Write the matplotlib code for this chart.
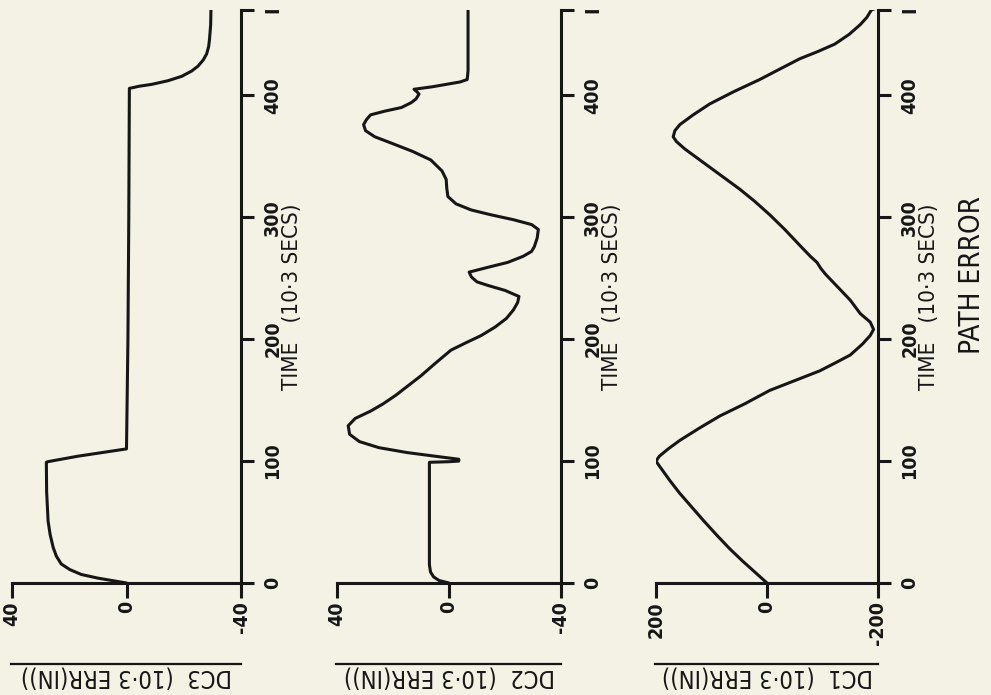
import matplotlib
matplotlib.use("Agg")
import matplotlib.pyplot as plt
from matplotlib.lines import Line2D

# ---- data: time in 10^-3 s, errors in 10^-3 in ----
time_ticks = [0, 100, 200, 300, 400, 470]
time_tick_labels = ["0", "100", "200", "300", "400", "I"]

dc3_time = [0, 2, 4, 7, 11, 15.6, 22, 29, 40, 51, 75, 99, 99.5, 104, 110, 200, 300,
            405.7, 407.5, 409, 412, 415.6, 420, 424, 429, 434, 440, 446, 458, 470]
dc3_err = [0, 5, 10, 15.8, 19.8, 22.8, 24.5, 25.6, 26.7, 27.4, 27.9, 28, 27.5, 17, 0, -0.5, -0.8,
           -1, -4.5, -8.8, -14.5, -19.3, -22.8, -25, -26.8, -28, -28.7, -29, -29.4, -29.5]

dc2_time = [0, 2, 5, 9, 15, 99, 99.5, 100, 101.5, 104, 107, 111, 116, 122, 129, 135, 141, 147,
            154, 162, 170, 180, 191, 197, 203, 210, 217, 224, 230, 235, 240, 244, 247, 251, 255,
            259, 263, 268, 272, 276, 283, 290, 294, 298, 302, 306, 311, 317, 324, 331, 338, 347,
            354, 361, 366, 371, 376, 380, 384, 387, 390, 394, 397, 401, 403, 405, 407, 409, 411,
            413, 420, 471]
dc2_err = [0, 3.5, 5.5, 6.6, 7, 7, 0, -3.5, -3.5, 5, 15, 25, 32, 35.5, 36, 33.5, 28, 23.5,
           19, 14.5, 10, 5, -0.7, -6, -11.5, -16.5, -20.5, -23, -24.5, -25, -20, -14, -10, -8, -7.2,
           -14, -21, -26.5, -29.5, -30.5, -31.5, -31.9, -29.5, -23, -15, -7.9, -2.5, 0.4, 0.8, 1,
           2.5, 6.5, 13, 20.8, 26.5, 29.8, 30.5, 29.5, 28, 23, 17, 13.5, 11.8, 10.7, 11.5, 12.5, 6,
           1, -4, -6.5, -6.8, -6.8]

dc1_time = [0, 9, 18, 28, 39, 51, 63, 74, 84, 91, 96, 100, 104, 110, 117, 127, 137, 147, 158,
            166, 174, 181, 187, 196, 203, 208, 214, 221, 232, 243, 253, 258, 263, 268, 277, 290,
            302, 313, 323, 332, 341, 349, 356, 362, 366, 371, 376, 384, 393, 403, 413, 422, 430,
            436, 442, 450, 458, 464, 470, 472]
dc1_err = [0, 22, 44, 67, 90, 114, 137, 158, 175, 186, 194, 200, 194, 178, 157, 122, 85, 40, -5,
           -50, -95, -125, -150, -172, -186, -192, -186, -168, -150, -127, -106, -97, -90, -78, -59,
           -32, -5, 22, 49, 76, 103, 127, 148, 163, 169, 166, 157, 133, 103, 60, 13, -25, -59,
           -92, -122, -148, -168, -180, -188, -200]

panels = [
    # (times, errors, value ticks, value tick labels, label)
    (dc3_time, dc3_err, [40, 0, -40], ["40", "0", "-40"], "DC3  (10·3 ERR(IN))"),
    (dc2_time, dc2_err, [40, 0, -40], ["40", "0", "-40"], "DC2  (10·3 ERR(IN))"),
    (dc1_time, dc1_err, [200, 0, -200], ["200", "0", "-200"], "DC1  (10·3 ERR(IN))"),
]

# ---- layout (pixels) ----
W, H = 991, 695
INK = "#161616"
PAPER = "#f4f2e5"
plt.rcParams["font.family"] = ["DejaVu Sans"]
plt.rcParams["font.stretch"] = "condensed"

fig = plt.figure(figsize=(W / 100, H / 100), dpi=100, facecolor=PAPER)

boxes = [(12, 241), (337, 561), (656, 878)]
top_px, bottom_px = 10, 583


def fx(x):
    return x / W


def fy(y):
    return 1 - y / H


for (t, e, vticks, vlabels, label), (x0, x1) in zip(panels, boxes):
    ax = fig.add_axes([fx(x0), fy(bottom_px), (x1 - x0) / W, (bottom_px - top_px) / H])
    ax.patch.set_alpha(0)
    ax.plot(e, t, color=INK, lw=2.2, solid_capstyle="round", solid_joinstyle="round")
    ax.set_xlim(vticks[0], vticks[-1])
    ax.set_ylim(0, 470)
    for s in ("top", "left"):
        ax.spines[s].set_visible(False)
    for s in ("bottom", "right"):
        ax.spines[s].set_linewidth(2.2)
        ax.spines[s].set_color(INK)
    ax.yaxis.tick_right()
    ax.set_yticks(time_ticks)
    ax.set_yticklabels(time_tick_labels, rotation=90, fontsize=14, fontweight="bold", color=INK)
    for lab in ax.get_yticklabels():
        lab.set_va("center")
    ax.tick_params(axis="y", direction="out", length=9, width=2.2, pad=7, color=INK)
    ax.set_xticks(vticks)
    ax.set_xticklabels(vlabels, rotation=90, fontsize=14, fontweight="bold", color=INK)
    ax.tick_params(axis="x", direction="out", length=11, width=2.2, pad=2, color=INK)

    # time axis title, read bottom to top
    fig.text(fx(x1 + 51), fy(297), "TIME   (10·3 SECS)", rotation=90, ha="center", va="center",
             fontsize=16, color=INK)
    # error axis title, upside down with its underline
    fig.text(fx((x0 + x1) / 2), fy(677), label, rotation=180, ha="center", va="center",
             fontsize=17, color=INK)
    fig.add_artist(Line2D([fx(x0 - 1), fx(x1)], [fy(664), fy(664)], transform=fig.transFigure,
                          color=INK, lw=1.6))

fig.text(fx(972), fy(275), "PATH ERROR", rotation=90, ha="center", va="center",
         fontsize=20, color=INK)

fig.savefig("out.png", dpi=100, facecolor=PAPER)
